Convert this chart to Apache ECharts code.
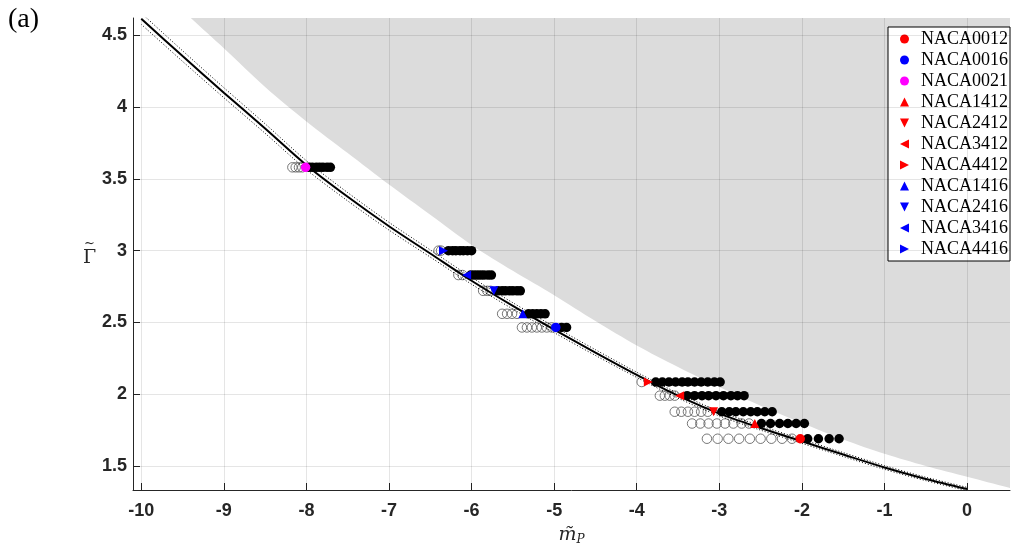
<!DOCTYPE html>
<html><head><meta charset="utf-8">
<script src="https://cdn.jsdelivr.net/npm/echarts@6/dist/echarts.min.js"></script>
<style>html,body{margin:0;padding:0;background:#fff}#c{width:1011px;height:551px}</style>
</head><body><div id="c"></div>
<script>
// ---- axis ticks ----
const xTicks = [-10, -9, -8, -7, -6, -5, -4, -3, -2, -1, 0];
const yTicks = [1.5, 2, 2.5, 3, 3.5, 4, 4.5];

// ---- fitted curve (solid) and its dotted band ----
const curveX = [-10, -9.5, -9, -8.5, -8, -7.5, -7, -6.5, -6, -5.5, -5, -4.5, -4, -3.5, -3, -2.5, -2, -1.5, -1, -0.5, 0];
const curveY = [4.615, 4.355, 4.10, 3.85, 3.595, 3.375, 3.17, 2.98, 2.79, 2.615, 2.45, 2.29, 2.135, 1.99, 1.865, 1.765, 1.672, 1.58, 1.49, 1.41, 1.34];
const bandUpper = [4.654, 4.392, 4.135, 3.883, 3.626, 3.404, 3.197, 3.005, 2.814, 2.637, 2.471, 2.31, 2.153, 2.007, 1.881, 1.780, 1.686, 1.5935, 1.503, 1.422, 1.3515];
const bandLower = [4.576, 4.318, 4.065, 3.817, 3.564, 3.346, 3.143, 2.955, 2.766, 2.593, 2.429, 2.27, 2.117, 1.973, 1.849, 1.750, 1.658, 1.5665, 1.477, 1.398, 1.3285];

// ---- shaded (inaccessible) region boundary ----
const shadeX = [-9.5, -9.4, -9, -8.5, -8, -7.5, -7, -6.5, -6, -5.5, -5, -4.5, -4, -3.5, -3, -2.5, -2, -1.5, -1, -0.5, 0, 0.5, 0.6];
const shadeY = [4.68, 4.62, 4.41, 4.14, 3.90, 3.68, 3.46, 3.25, 3.04, 2.86, 2.69, 2.51, 2.34, 2.19, 2.05, 1.92, 1.80, 1.685, 1.585, 1.50, 1.425, 1.35, 1.335];

// ---- airfoils (legend order) ----
const foilNames = ['NACA0012', 'NACA0016', 'NACA0021', 'NACA1412', 'NACA2412', 'NACA3412', 'NACA4412', 'NACA1416', 'NACA2416', 'NACA3416', 'NACA4416'];
const foilColors = ['#ff0000', '#0000ff', '#ff00ff', '#ff0000', '#ff0000', '#ff0000', '#ff0000', '#0000ff', '#0000ff', '#0000ff', '#0000ff'];
const foilMarkers = ['circle', 'circle', 'circle', 'up', 'down', 'left', 'right', 'up', 'down', 'left', 'right'];
const foilX = [-2.02, -4.98, -8.01, -2.57, -3.07, -3.48, -3.86, -5.38, -5.73, -6.06, -6.34];
const foilY = [1.69, 2.465, 3.58, 1.796, 1.878, 1.99, 2.085, 2.56, 2.72, 2.83, 3.00];

// ---- rows of open (left) and filled (right) points, same order as foils ----
const openRowsX = [
  [-3.15, -3.02, -2.89, -2.76, -2.63, -2.50, -2.37, -2.24, -2.12],
  [-5.39, -5.33, -5.27, -5.21, -5.15, -5.09, -5.03],
  [-8.17, -8.13, -8.09, -8.05],
  [-3.33, -3.23, -3.13, -3.03, -2.93, -2.83, -2.73, -2.64],
  [-3.54, -3.46, -3.38, -3.30, -3.22, -3.14],
  [-3.72, -3.66, -3.60, -3.54],
  [-3.94],
  [-5.63, -5.57, -5.51, -5.45],
  [-5.86, -5.81, -5.77],
  [-6.16, -6.11],
  [-6.40, -6.37]
];
const filledRowsX = [
  [-1.93, -1.80, -1.67, -1.55],
  [-4.91, -4.85],
  [-7.97, -7.93, -7.88, -7.84, -7.80, -7.75, -7.71],
  [-2.49, -2.38, -2.27, -2.17, -2.07, -1.97],
  [-2.97, -2.88, -2.80, -2.71, -2.62, -2.54, -2.45, -2.36],
  [-3.39, -3.30, -3.21, -3.13, -3.04, -2.95, -2.86, -2.78, -2.70],
  [-3.77, -3.69, -3.61, -3.53, -3.45, -3.38, -3.30, -3.22, -3.14, -3.06, -2.99],
  [-5.31, -5.26, -5.21, -5.16, -5.11],
  [-5.68, -5.63, -5.59, -5.54, -5.50, -5.45, -5.41],
  [-6.01, -5.97, -5.93, -5.89, -5.85, -5.80, -5.76],
  [-6.28, -6.23, -6.19, -6.14, -6.10, -6.05, -6.00]
];

// ---- build ----
const markerPath = {
  circle: 'circle',
  up: 'path://M5,0L10,10L0,10Z',
  down: 'path://M0,0L10,0L5,10Z',
  left: 'path://M0,5L10,0L10,10Z',
  right: 'path://M0,0L10,5L0,10Z'
};
const pairs = (xs, ys) => xs.map((x, i) => [x, ys[i]]);
const openPts = [], filledPts = [];
openRowsX.forEach((row, i) => row.forEach(x => openPts.push([x, foilY[i]])));
filledRowsX.forEach((row, i) => row.forEach(x => filledPts.push([x, foilY[i]])));

const axisCol = '#262626';
const gridCol = 'rgba(0,0,0,0.1)';

const series = [
  { type: 'line', data: pairs(shadeX, shadeY), showSymbol: false, silent: true, z: 1, smooth: 0.3,
    lineStyle: { width: 0 }, areaStyle: { color: '#dcdcdc', opacity: 1, origin: 'end' } },
  { type: 'line', data: [], silent: true, z: 2,
    markLine: { silent: true, symbol: ['none', 'none'], label: { show: false },
      lineStyle: { color: gridCol, width: 1, type: 'solid' }, emphasis: { disabled: true },
      data: xTicks.map(v => ({ xAxis: v })).concat(yTicks.map(v => ({ yAxis: v }))) } },
  { type: 'scatter', data: openPts, symbol: 'circle', symbolSize: 9.5, z: 3, silent: true,
    itemStyle: { color: 'rgba(0,0,0,0)', borderColor: '#555', borderWidth: 0.8, opacity: 1 } },
  { type: 'scatter', data: filledPts, symbol: 'circle', symbolSize: 9.5, z: 4, silent: true,
    itemStyle: { color: '#000', opacity: 1 } },
  { type: 'line', data: pairs(curveX, bandUpper), showSymbol: false, smooth: 0.3, z: 5, silent: true,
    lineStyle: { color: '#000', width: 1, type: [1, 2] } },
  { type: 'line', data: pairs(curveX, bandLower), showSymbol: false, smooth: 0.3, z: 5, silent: true,
    lineStyle: { color: '#000', width: 1, type: [1, 2] } },
  { type: 'line', data: pairs(curveX, curveY), showSymbol: false, smooth: 0.3, z: 5, silent: true,
    lineStyle: { color: '#000', width: 2 } }
];
foilNames.forEach((n, i) => {
  const isC = foilMarkers[i] === 'circle';
  series.push({ type: 'scatter', name: n, data: [[foilX[i], foilY[i]]], symbol: markerPath[foilMarkers[i]],
    symbolSize: isC ? 9.5 : 9, z: 6,
    itemStyle: { color: foilColors[i], opacity: 1 } });
});

const chart = echarts.init(document.getElementById('c'), null, { renderer: 'canvas' });
chart.setOption({
  animation: false,
  backgroundColor: '#fff',
  grid: { left: 133, right: 1, top: 18, bottom: 61, containLabel: false },
  xAxis: {
    type: 'value', min: -10.1, max: 0.52,
    name: '{m|m\u0303}{s|P}', nameLocation: 'middle', nameGap: 34,
    nameTextStyle: { rich: {
      m: { fontFamily: 'DejaVu Serif', fontStyle: 'italic', fontSize: 19, color: axisCol },
      s: { fontFamily: 'DejaVu Serif', fontStyle: 'italic', fontSize: 12, color: axisCol, padding: [10, 0, 0, 0] } } },
    axisLine: { show: true, onZero: false, lineStyle: { color: axisCol, width: 1 } },
    axisTick: { show: true, inside: true, length: 7, customValues: xTicks, lineStyle: { color: axisCol } },
    axisLabel: { customValues: xTicks, margin: 12, fontFamily: 'Liberation Sans', fontWeight: 'bold', fontSize: 18, color: axisCol },
    splitLine: { show: false }
  },
  yAxis: {
    type: 'value', min: 1.333, max: 4.62,
    name: '{t|~}\n{g|\u0393}', nameLocation: 'middle', nameGap: 35, nameRotate: 0,
    nameTextStyle: { align: 'center', rich: {
      t: { fontFamily: 'DejaVu Serif', fontSize: 13, lineHeight: 9, color: axisCol, align: 'center' },
      g: { fontFamily: 'DejaVu Serif', fontSize: 19, lineHeight: 20, color: axisCol, align: 'center' } } },
    axisLine: { show: true, onZero: false, lineStyle: { color: axisCol, width: 1 } },
    axisTick: { show: true, inside: true, length: 7, customValues: yTicks, lineStyle: { color: axisCol } },
    axisLabel: { customValues: yTicks, margin: 6, fontFamily: 'Liberation Sans', fontWeight: 'bold', fontSize: 18, color: axisCol },
    splitLine: { show: false }
  },
  legend: {
    data: foilNames.map((n, i) => ({ name: n, icon: markerPath[foilMarkers[i]] })),
    orient: 'vertical', left: 888, top: 27,
    padding: [3, 2, 3, 12], itemGap: 3, itemWidth: 9, itemHeight: 9,
    backgroundColor: '#fff', borderColor: '#000', borderWidth: 1, borderRadius: 0,
    selectedMode: false,
    textStyle: { fontFamily: 'Liberation Serif', fontSize: 18, lineHeight: 18, color: '#000', padding: [0, 0, 0, 7] }
  },
  graphic: [{ type: 'text', left: 8, top: 6, style: { text: '(a)', fontFamily: 'Liberation Serif', fontSize: 28, fill: '#000' } }],
  series: series
});
</script></body></html>
